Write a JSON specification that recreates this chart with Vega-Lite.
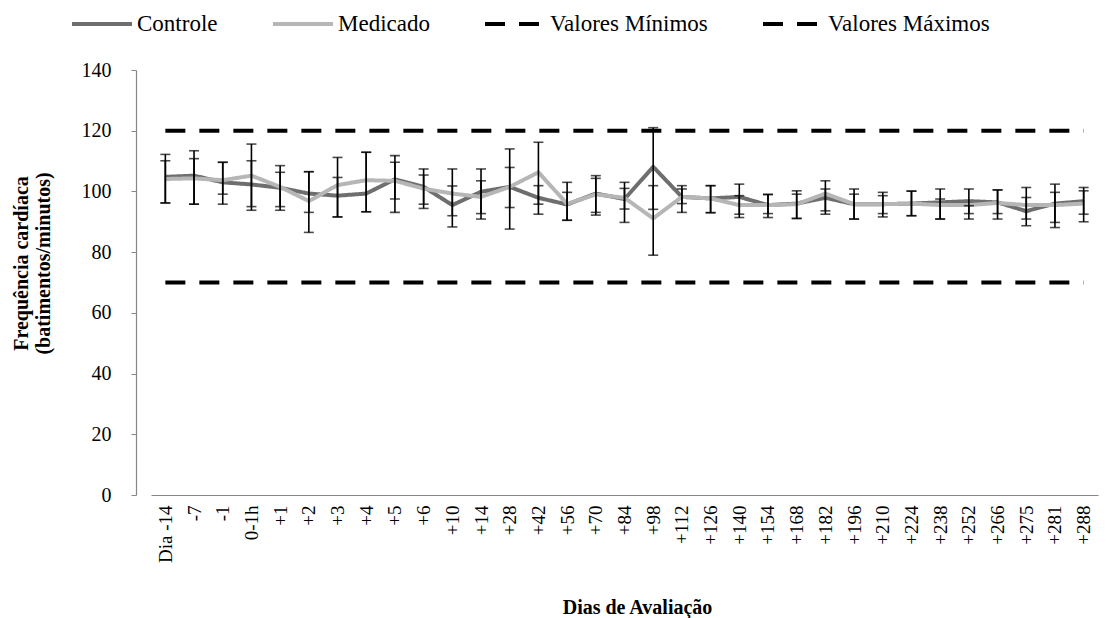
{
  "$schema": "https://vega.github.io/schema/vega-lite/v6.json",
  "width": 972,
  "height": 425,
  "autosize": {"type": "none"},
  "padding": {"left": 136, "top": 70, "right": 0, "bottom": 123},
  "background": "white",
  "config": {
    "font": "Times New Roman, Liberation Serif, serif",
    "view": {"stroke": null},
    "axis": {"labelFont": "Times New Roman, Liberation Serif, serif", "titleFont": "Times New Roman, Liberation Serif, serif", "labelColor": "black", "titleColor": "black"},
    "legend": {"labelFont": "Times New Roman, Liberation Serif, serif", "labelColor": "black", "titleFont": "Times New Roman, Liberation Serif, serif"}
  },
  "data": {
    "values": [
      {"dia": "Dia -14", "Controle": 104.8, "Medicado": 104.1, "Valores Mínimos": 70, "Valores Máximos": 120, "aLo": 96.2, "aHi": 112.2, "bLo": 96.2, "bHi": 110.1},
      {"dia": "-7", "Controle": 105.2, "Medicado": 104.3, "Valores Mínimos": 70, "Valores Máximos": 120, "aLo": 95.8, "aHi": 113.4, "bLo": 95.8, "bHi": 110.8},
      {"dia": "-1", "Controle": 103.0, "Medicado": 103.7, "Valores Mínimos": 70, "Valores Máximos": 120, "aLo": 95.8, "aHi": 109.6, "bLo": 99.1, "bHi": 109.6},
      {"dia": "0-1h", "Controle": 102.3, "Medicado": 105.2, "Valores Mínimos": 70, "Valores Máximos": 120, "aLo": 93.8, "aHi": 115.6, "bLo": 95.0, "bHi": 110.1},
      {"dia": "+1", "Controle": 101.2, "Medicado": 101.5, "Valores Mínimos": 70, "Valores Máximos": 120, "aLo": 93.8, "aHi": 108.5, "bLo": 95.0, "bHi": 106.3},
      {"dia": "+2", "Controle": 99.3, "Medicado": 96.8, "Valores Mínimos": 70, "Valores Máximos": 120, "aLo": 86.5, "aHi": 106.5, "bLo": 93.1, "bHi": 106.5},
      {"dia": "+3", "Controle": 98.6, "Medicado": 102.1, "Valores Mínimos": 70, "Valores Máximos": 120, "aLo": 91.6, "aHi": 111.2, "bLo": 91.6, "bHi": 104.6},
      {"dia": "+4", "Controle": 99.3, "Medicado": 103.7, "Valores Mínimos": 70, "Valores Máximos": 120, "aLo": 93.3, "aHi": 112.9, "bLo": 93.3, "bHi": 112.9},
      {"dia": "+5", "Controle": 104.0, "Medicado": 103.5, "Valores Mínimos": 70, "Valores Máximos": 120, "aLo": 93.1, "aHi": 111.8, "bLo": 97.5, "bHi": 109.6},
      {"dia": "+6", "Controle": 101.5, "Medicado": 100.9, "Valores Mínimos": 70, "Valores Máximos": 120, "aLo": 94.4, "aHi": 107.4, "bLo": 95.8, "bHi": 105.4},
      {"dia": "+10", "Controle": 95.5, "Medicado": 99.3, "Valores Mínimos": 70, "Valores Máximos": 120, "aLo": 88.3, "aHi": 107.4, "bLo": 92.0, "bHi": 101.8},
      {"dia": "+14", "Controle": 99.9, "Medicado": 98.2, "Valores Mínimos": 70, "Valores Máximos": 120, "aLo": 90.9, "aHi": 107.4, "bLo": 92.7, "bHi": 103.5},
      {"dia": "+28", "Controle": 101.5, "Medicado": 101.5, "Valores Mínimos": 70, "Valores Máximos": 120, "aLo": 87.6, "aHi": 114.0, "bLo": 94.7, "bHi": 107.9},
      {"dia": "+42", "Controle": 97.9, "Medicado": 106.3, "Valores Mínimos": 70, "Valores Máximos": 120, "aLo": 92.5, "aHi": 116.2, "bLo": 95.8, "bHi": 101.9},
      {"dia": "+56", "Controle": 95.7, "Medicado": 95.9, "Valores Mínimos": 70, "Valores Máximos": 120, "aLo": 90.5, "aHi": 103.0, "bLo": 90.5, "bHi": 99.7},
      {"dia": "+70", "Controle": 99.3, "Medicado": 99.0, "Valores Mínimos": 70, "Valores Máximos": 120, "aLo": 92.2, "aHi": 105.2, "bLo": 93.1, "bHi": 104.3},
      {"dia": "+84", "Controle": 97.5, "Medicado": 97.9, "Valores Mínimos": 70, "Valores Máximos": 120, "aLo": 89.8, "aHi": 103.0, "bLo": 94.2, "bHi": 101.0},
      {"dia": "+98", "Controle": 108.1, "Medicado": 91.1, "Valores Mínimos": 70, "Valores Máximos": 120, "aLo": 79.0, "aHi": 121.0, "bLo": 94.1, "bHi": 101.9},
      {"dia": "+112", "Controle": 98.2, "Medicado": 98.2, "Valores Mínimos": 70, "Valores Máximos": 120, "aLo": 93.1, "aHi": 101.9, "bLo": 96.0, "bHi": 100.8},
      {"dia": "+126", "Controle": 97.7, "Medicado": 97.7, "Valores Mínimos": 70, "Valores Máximos": 120, "aLo": 93.0, "aHi": 101.9, "bLo": 93.0, "bHi": 101.9},
      {"dia": "+140", "Controle": 98.2, "Medicado": 95.5, "Valores Mínimos": 70, "Valores Máximos": 120, "aLo": 91.4, "aHi": 102.4, "bLo": 92.5, "bHi": 98.6},
      {"dia": "+154", "Controle": 95.5, "Medicado": 95.5, "Valores Mínimos": 70, "Valores Máximos": 120, "aLo": 91.4, "aHi": 99.0, "bLo": 92.7, "bHi": 99.0},
      {"dia": "+168", "Controle": 96.0, "Medicado": 95.8, "Valores Mínimos": 70, "Valores Máximos": 120, "aLo": 91.1, "aHi": 100.2, "bLo": 91.1, "bHi": 99.1},
      {"dia": "+182", "Controle": 97.9, "Medicado": 99.3, "Valores Mínimos": 70, "Valores Máximos": 120, "aLo": 92.5, "aHi": 103.5, "bLo": 93.6, "bHi": 100.8},
      {"dia": "+196", "Controle": 95.8, "Medicado": 95.8, "Valores Mínimos": 70, "Valores Máximos": 120, "aLo": 90.9, "aHi": 100.8, "bLo": 90.9, "bHi": 99.1},
      {"dia": "+210", "Controle": 95.8, "Medicado": 95.8, "Valores Mínimos": 70, "Valores Máximos": 120, "aLo": 91.6, "aHi": 99.7, "bLo": 92.7, "bHi": 98.6},
      {"dia": "+224", "Controle": 96.0, "Medicado": 96.0, "Valores Mínimos": 70, "Valores Máximos": 120, "aLo": 92.0, "aHi": 100.1, "bLo": 92.0, "bHi": 100.1},
      {"dia": "+238", "Controle": 96.4, "Medicado": 95.5, "Valores Mínimos": 70, "Valores Máximos": 120, "aLo": 90.9, "aHi": 100.8, "bLo": 90.9, "bHi": 97.5},
      {"dia": "+252", "Controle": 96.8, "Medicado": 95.5, "Valores Mínimos": 70, "Valores Máximos": 120, "aLo": 90.9, "aHi": 100.8, "bLo": 92.7, "bHi": 95.3},
      {"dia": "+266", "Controle": 96.4, "Medicado": 96.2, "Valores Mínimos": 70, "Valores Máximos": 120, "aLo": 90.9, "aHi": 100.5, "bLo": 92.7, "bHi": 100.5},
      {"dia": "+275", "Controle": 93.5, "Medicado": 95.5, "Valores Mínimos": 70, "Valores Máximos": 120, "aLo": 88.7, "aHi": 101.3, "bLo": 90.9, "bHi": 98.0},
      {"dia": "+281", "Controle": 96.0, "Medicado": 95.5, "Valores Mínimos": 70, "Valores Máximos": 120, "aLo": 88.1, "aHi": 102.4, "bLo": 89.8, "bHi": 99.7},
      {"dia": "+288", "Controle": 96.8, "Medicado": 96.0, "Valores Mínimos": 70, "Valores Máximos": 120, "aLo": 90.0, "aHi": 101.3, "bLo": 92.5, "bHi": 100.2}
    ]
  },
  "encoding": {
    "x": {
      "field": "dia", "type": "nominal", "sort": null,
      "scale": {"type": "point", "range": [15, 962]},
      "axis": {
        "title": "Dias de Avaliação", "titleFontSize": 20, "titleFontWeight": "bold",
        "titleX": 501, "titleY": 112, "titleBaseline": "middle", "titleAnchor": "middle", "titleAlign": "center",
        "labelAngle": -90, "labelAlign": "right", "labelBaseline": "middle", "labelFontSize": 19, "labelPadding": 10,
        "ticks": false, "domainColor": "#868686", "domainWidth": 1.2, "grid": false
      }
    }
  },
  "layer": [
    {
      "transform": [{"fold": ["Controle", "Medicado", "Valores Mínimos", "Valores Máximos"], "as": ["serie", "valor"]}],
      "mark": {"type": "line", "strokeCap": "butt", "strokeJoin": "round"},
      "encoding": {
        "y": {
          "field": "valor", "type": "quantitative",
          "scale": {"domain": [0, 140], "nice": false, "zero": true},
          "axis": {
            "title": ["Frequência cardíaca", "(batimentos/minutos)"], "titleFontSize": 20, "titleFontWeight": "bold", "titleLineHeight": 22,
            "titleX": -115, "titleY": 193, "titleAngle": -90, "titleBaseline": "middle", "titleAlign": "center",
            "values": [0, 20, 40, 60, 80, 100, 120, 140], "labelFontSize": 20, "labelPadding": 20,
            "tickSize": 5, "tickColor": "#868686", "domainColor": "#868686", "domainWidth": 1.2, "grid": false
          }
        },
        "color": {
          "field": "serie", "type": "nominal", "title": null,
          "scale": {"domain": ["Controle", "Medicado", "Valores Mínimos", "Valores Máximos"], "range": ["#6e6e6e", "#b6b6b6", "#000000", "#000000"]},
          "legend": {
            "orient": "none", "legendX": -66, "legendY": -78, "direction": "horizontal",
            "symbolType": "stroke", "symbolSize": 3600, "symbolStrokeWidth": 4.5,
            "labelFontSize": 23, "labelOffset": 3, "columnPadding": 47, "labelLimit": 400,
            "encode": {
              "symbols": {"update": {"strokeDash": {"signal": "datum.value == 'Controle' || datum.value == 'Medicado' ? [1, 0] : [22, 12]"}}}
            }
          }
        },
        "strokeDash": {
          "field": "serie", "type": "nominal", "legend": null,
          "scale": {"domain": ["Controle", "Medicado", "Valores Mínimos", "Valores Máximos"], "range": [[1, 0], [1, 0], [20, 14], [20, 14]]}
        },
        "strokeWidth": {
          "field": "serie", "type": "nominal", "legend": null,
          "scale": {"domain": ["Controle", "Medicado", "Valores Mínimos", "Valores Máximos"], "range": [4, 4, 5, 5]}
        }
      }
    },
    {
      "mark": {"type": "errorbar", "ticks": {"size": 10, "thickness": 1.6, "color": "black"}, "rule": {"strokeWidth": 1.6, "color": "black"}},
      "encoding": {
        "y": {"field": "aLo", "type": "quantitative", "title": ["Frequência cardíaca", "(batimentos/minutos)"]},
        "y2": {"field": "aHi"}
      }
    },
    {
      "mark": {"type": "errorbar", "ticks": {"size": 10, "thickness": 1.6, "color": "black"}, "rule": {"strokeWidth": 1.6, "color": "black"}},
      "encoding": {
        "y": {"field": "bLo", "type": "quantitative", "title": ["Frequência cardíaca", "(batimentos/minutos)"]},
        "y2": {"field": "bHi"}
      }
    }
  ]
}
